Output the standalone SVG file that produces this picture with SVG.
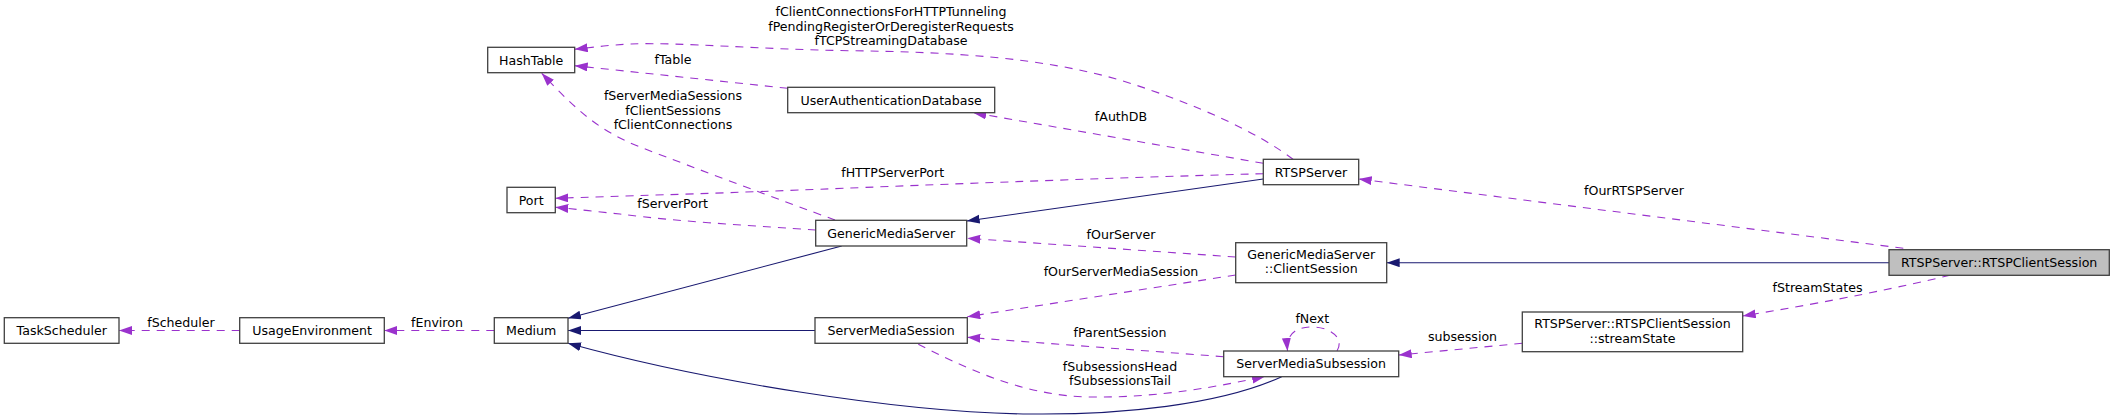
<svg xmlns="http://www.w3.org/2000/svg" width="2115" height="420" viewBox="0 0 2115 420">
<style>
.n rect{fill:#fff;stroke:#404040;stroke-width:1.3}
.n text,.lbl{font-family:"DejaVu Sans","Liberation Sans",sans-serif;font-size:12.6px;fill:#000;text-anchor:middle}
.inh{fill:none;stroke:#191970;stroke-width:1.1;marker-end:url(#ah)}
.use{fill:none;stroke:#9a32cd;stroke-width:1.1;stroke-dasharray:8,7;marker-end:url(#au)}
</style>
<defs>
<marker id="ah" markerUnits="userSpaceOnUse" markerWidth="14" markerHeight="10" refX="13" refY="4.5" orient="auto"><path d="M0,0 L13,4.5 L0,9 z" fill="#191970"/></marker>
<marker id="au" markerUnits="userSpaceOnUse" markerWidth="14" markerHeight="10" refX="13" refY="4.5" orient="auto"><path d="M0,0 L13,4.5 L0,9 z" fill="#9a32cd"/></marker>
</defs>
<rect width="2115" height="420" fill="#fff"/>
<g id="edges">
<path class="inh" d="M1889,262.7 L1386.7,262.7"/>
<path class="inh" d="M1263.3,179 L966.7,221"/>
<path class="inh" d="M841.7,246 L568,318.3"/>
<path class="inh" d="M815,330.5 L568,330.5"/>
<path class="inh" d="M1281.7,376.7 C1220,405 1120,415 1030,414 C900,413 700,380 568,343.3"/>
<path class="use" d="M1903.3,248.3 L1358.7,179"/>
<path class="use" d="M1950,275.3 C1900,287 1840,300 1742.7,316"/>
<path class="use" d="M1235.7,257 L967.3,238.3"/>
<path class="use" d="M1235.7,275 L967.3,316.7"/>
<path class="use" d="M1223.7,356.7 L967.3,337.3"/>
<path class="use" d="M918.3,344.3 C960,365 1020,396 1090,397 C1160,398 1220,386 1265,376.5"/>
<path class="use" d="M1337,351 C1345,338 1330,327 1312,327 C1296,327 1286,334 1287.5,351"/>
<path class="use" d="M1522.3,343.3 L1398.7,355"/>
<path class="use" d="M1263.3,163.3 L973.3,112.7"/>
<path class="use" d="M1263.3,173.7 C1100,178 900,186 800,190 C700,194 620,196 555.3,198.3"/>
<path class="use" d="M815.7,230 C760,226 680,222 620,214 C600,212 575,209 555.3,207.3"/>
<path class="use" d="M835,220 C780,200 700,170 640,147 C600,131 578,112 541.7,73.3"/>
<path class="use" d="M1293,159.3 C1260,134 1200,105 1120,80 C1040,57 950,52 850,50.7 C760,49.5 680,42 630,44 C610,45 595,47 574.7,49.3"/>
<path class="use" d="M787.7,88.3 L574.7,65.7"/>
<path class="use" d="M494.3,330.5 L384.3,330.5"/>
<path class="use" d="M239.7,330.5 L119,330.5"/>
</g>
<g id="labels">
<text class="lbl" x="1634" y="195.2">fOurRTSPServer</text>
<text class="lbl" x="1817.5" y="291.8">fStreamStates</text>
<text class="lbl" x="1121" y="239.2">fOurServer</text>
<text class="lbl" x="1121" y="276.2">fOurServerMediaSession</text>
<text class="lbl" x="1120" y="336.8">fParentSession</text>
<text class="lbl" x="1120" y="371.2">fSubsessionsHead</text>
<text class="lbl" x="1120" y="384.5">fSubsessionsTail</text>
<text class="lbl" x="1312.3" y="322.8">fNext</text>
<text class="lbl" x="1462.5" y="341.2">subsession</text>
<text class="lbl" x="1121" y="121.2">fAuthDB</text>
<text class="lbl" x="892.7" y="177.2">fHTTPServerPort</text>
<text class="lbl" x="672.7" y="207.8">fServerPort</text>
<text class="lbl" x="673" y="100.2">fServerMediaSessions</text>
<text class="lbl" x="673" y="114.8">fClientSessions</text>
<text class="lbl" x="673" y="129.2">fClientConnections</text>
<text class="lbl" x="891" y="16.2">fClientConnectionsForHTTPTunneling</text>
<text class="lbl" x="891" y="31.2">fPendingRegisterOrDeregisterRequests</text>
<text class="lbl" x="891" y="45.2">fTCPStreamingDatabase</text>
<text class="lbl" x="673" y="63.8">fTable</text>
<text class="lbl" x="437" y="326.8">fEnviron</text>
<text class="lbl" x="181" y="326.8">fScheduler</text>
</g>
<g id="RTSPClientSession" class="n"><rect x="1889" y="249.7" width="220.3" height="25.6" style="fill:#bfbfbf"/><text x="1999.2" y="267">RTSPServer::RTSPClientSession</text></g>
<g id="ClientSession" class="n"><rect x="1235.7" y="242.7" width="151" height="40"/><text x="1311.2" y="258.8">GenericMediaServer</text><text x="1311.2" y="272.8">::ClientSession</text></g>
<g id="RTSPServer" class="n"><rect x="1263.3" y="159.3" width="95.4" height="25.4"/><text x="1311" y="176.5">RTSPServer</text></g>
<g id="GenericMediaServer" class="n"><rect x="815.7" y="220.3" width="151" height="25.7"/><text x="891.2" y="237.6">GenericMediaServer</text></g>
<g id="Medium" class="n"><rect x="494.3" y="317.7" width="73.7" height="25.6"/><text x="531.2" y="335">Medium</text></g>
<g id="UsageEnvironment" class="n"><rect x="239.7" y="317.7" width="144.6" height="25.6"/><text x="312" y="335">UsageEnvironment</text></g>
<g id="TaskScheduler" class="n"><rect x="4.3" y="317.7" width="114.7" height="25.6"/><text x="61.7" y="335">TaskScheduler</text></g>
<g id="HashTable" class="n"><rect x="487.7" y="47.3" width="87" height="25.4"/><text x="531.2" y="64.5">HashTable</text></g>
<g id="Port" class="n"><rect x="507" y="187.3" width="48.3" height="25.4"/><text x="531.2" y="204.5">Port</text></g>
<g id="UserAuthenticationDatabase" class="n"><rect x="787.7" y="87.3" width="207" height="25.4"/><text x="891.2" y="104.5">UserAuthenticationDatabase</text></g>
<g id="ServerMediaSession" class="n"><rect x="815" y="317.7" width="152.3" height="25.6"/><text x="891.2" y="335">ServerMediaSession</text></g>
<g id="ServerMediaSubsession" class="n"><rect x="1223.7" y="351" width="175" height="25.7"/><text x="1311.2" y="368.3">ServerMediaSubsession</text></g>
<g id="streamState" class="n"><rect x="1522.3" y="312" width="220.4" height="39.7"/><text x="1632.5" y="327.8">RTSPServer::RTSPClientSession</text><text x="1632.5" y="342.8">::streamState</text></g>
</svg>
